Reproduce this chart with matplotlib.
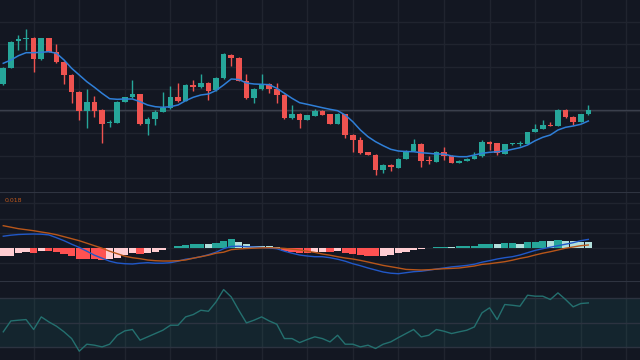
import numpy as np
import matplotlib
matplotlib.use("Agg")
import matplotlib.pyplot as plt

# ---------------- data ----------------
opens = [51.6, 53.2, 55.85, 56.05, 56.17, 54.1, 56.17, 54.8, 53.8, 52.5,
         50.8, 48.85, 49.75, 48.95, 47.65, 47.7, 49.83, 50.3, 50.55, 47.6,
         48.1, 48.83, 49.17, 50.27, 49.9, 51.5, 51.3, 51.67, 50.95, 52.17,
         54.53, 54.17, 51.9, 50.17, 51.07, 51.57, 51.07, 50.5, 48.17, 48.6,
         48.0, 48.4, 48.9, 48.55, 47.6, 48.57, 46.5, 46.0, 44.77, 44.53,
         43.0, 43.5, 43.23, 44.1, 44.93, 45.6, 43.97, 43.83, 44.8, 44.4,
         43.73, 43.87, 44.1, 44.4, 45.83, 45.67, 44.6, 45.55, 45.6, 45.6,
         46.8, 47.07, 47.53, 47.43, 49.0, 48.33, 47.8, 48.57]
highs = [53.3, 55.85, 56.5, 57.1, 56.3, 56.2, 56.2, 55.6, 53.9, 52.6,
         50.85, 51.05, 50.4, 49.05, 48.0, 49.9, 50.3, 52.0, 50.6, 48.25,
         49.0, 50.83, 51.4, 51.7, 51.55, 52.0, 52.6, 51.8, 52.3, 54.7,
         54.6, 54.25, 52.6, 51.2, 52.6, 51.7, 51.65, 50.55, 49.5, 48.7,
         48.5, 49.1, 49.0, 48.6, 48.7, 48.6, 46.55, 46.3, 44.8, 44.55,
         43.55, 43.55, 44.15, 45.0, 46.05, 45.65, 44.4, 44.85, 45.3, 44.45,
         44.0, 44.15, 44.8, 46.0, 45.9, 45.7, 45.6, 45.7, 45.85, 46.8,
         47.6, 48.0, 47.83, 49.05, 49.05, 48.35, 48.6, 49.5]
lows = [51.5, 53.15, 55.0, 55.0, 52.83, 54.0, 54.8, 53.7, 51.6, 49.7,
        48.0, 47.2, 48.3, 45.7, 47.3, 47.65, 49.8, 50.2, 47.5, 46.5,
        47.5, 48.8, 49.1, 49.8, 49.85, 50.9, 51.2, 50.0, 50.9, 52.1,
        53.4, 51.9, 50.1, 49.7, 51.0, 50.7, 49.7, 48.1, 48.1, 47.2,
        47.95, 48.35, 48.45, 47.55, 47.55, 46.2, 44.8, 44.6, 44.5, 42.5,
        42.7, 42.85, 43.2, 44.05, 44.9, 43.3, 43.6, 43.8, 44.0, 43.7,
        43.65, 43.85, 44.05, 44.3, 45.0, 44.5, 44.55, 45.45, 45.35, 45.55,
        46.75, 47.05, 47.35, 47.4, 48.2, 47.5, 47.75, 48.5]
closes = [53.2, 55.8, 56.05, 56.15, 54.1, 56.17, 54.83, 53.8, 52.45, 50.8,
          48.85, 49.75, 48.93, 47.6, 47.75, 49.83, 50.27, 50.55, 47.6, 48.1,
          48.83, 49.2, 50.27, 49.9, 51.5, 51.27, 51.67, 50.93, 52.17, 54.6,
          54.17, 51.93, 50.17, 51.07, 51.57, 51.07, 50.5, 48.17, 48.6, 48.0,
          48.45, 48.9, 48.5, 47.6, 48.57, 46.5, 46.0, 44.67, 44.53, 43.0,
          43.5, 43.27, 44.1, 44.93, 45.6, 43.9, 43.9, 44.8, 44.43, 43.73,
          43.93, 44.1, 44.4, 45.83, 45.6, 44.67, 45.57, 45.6, 45.7, 46.77,
          47.13, 47.5, 47.4, 49.0, 48.27, 47.83, 48.57, 49.0]
ma = [53.67, 54.0, 54.43, 54.73, 54.73, 54.77, 54.83, 54.67, 54.0, 53.17,
      52.5, 51.83, 51.27, 50.67, 50.13, 50.07, 50.1, 50.1, 49.83, 49.5,
      49.33, 49.27, 49.33, 49.5, 49.93, 50.27, 50.5, 50.6, 50.95, 51.5,
      52.1, 52.05, 51.7, 51.6, 51.57, 51.53, 51.17, 50.67, 50.17, 49.73,
      49.57, 49.4, 49.23, 49.07, 48.93, 48.5, 47.83, 47.0, 46.33, 45.83,
      45.43, 45.07, 44.9, 44.85, 44.83, 44.73, 44.67, 44.6, 44.6, 44.4,
      44.33, 44.33, 44.5, 44.67, 44.77, 44.83, 44.9, 45.07, 45.23, 45.5,
      45.93, 46.27, 46.5, 47.0, 47.27, 47.4, 47.57, 47.9]

macd_line = [11.5, 12.5, 13.2, 13.5, 13.7, 13.5, 12.8, 10.0, 7.0, 3.5,
             0.3, -3.5, -7.5, -10.5, -13.5, -15.3, -16.0, -16.3, -15.5, -15.0,
             -15.5, -15.5, -15.0, -13.5, -11.5, -10.5, -9.0, -7.0, -4.5, -1.0,
             1.3, 1.5, 1.0, 0.7, 0.3, -0.3, -1.0, -3.5, -5.5, -7.3,
             -8.3, -9.0, -9.0, -10.0, -11.5, -13.5, -16.0, -18.0, -20.3, -22.3,
             -24.3, -25.5, -26.0, -25.0, -24.0, -23.5, -22.5, -21.3, -20.3, -19.2,
             -18.5, -17.7, -16.5, -14.5, -13.0, -11.3, -10.0, -9.0, -7.3, -5.0,
             -2.7, -1.0, 0.5, 2.0, 3.5, 5.0, 7.0, 8.3]
signal_line = [22.0, 20.5, 19.0, 18.0, 17.0, 15.7, 14.5, 13.0, 11.0, 9.0,
               7.0, 4.5, 2.0, -0.5, -3.5, -6.0, -8.5, -10.0, -11.0, -12.3,
               -13.0, -13.3, -13.3, -13.0, -12.3, -10.5, -9.0, -7.5, -5.5, -4.5,
               -2.0, -1.3, -0.8, -0.5, -0.2, 0.0, -0.3, -0.7, -1.5, -2.3,
               -3.5, -4.7, -6.3, -7.5, -9.0, -10.3, -11.3, -12.7, -14.3, -16.0,
               -17.7, -19.0, -20.3, -21.7, -22.0, -22.3, -22.0, -21.5, -21.0, -20.7,
               -20.3, -19.3, -18.3, -16.7, -16.0, -15.0, -14.0, -12.5, -10.7, -9.3,
               -7.3, -5.5, -4.0, -2.3, -0.5, 0.7, 2.0, 2.7]
histogram = [-8.3, -8.0, -5.7, -4.0, -5.0, -3.0, -3.3, -4.0, -6.3, -8.0,
             -11.0, -11.3, -11.7, -12.3, -11.3, -10.0, -7.3, -5.7, -6.3, -5.7,
             -4.0, -2.3, -0.7, 1.7, 2.7, 3.3, 3.7, 3.5, 4.3, 7.0,
             8.3, 6.0, 3.3, 2.0, 1.7, 1.3, 0.3, -3.0, -4.0, -5.3,
             -5.7, -4.3, -4.0, -4.7, -3.3, -5.7, -6.3, -7.3, -8.0, -8.5,
             -8.3, -7.3, -5.7, -4.0, -2.3, -1.3, -0.3, 1.0, 1.2, 1.0,
             1.3, 1.7, 2.0, 3.7, 3.8, 3.6, 4.3, 4.4, 4.2, 5.3,
             6.0, 6.7, 6.6, 7.7, 7.0, 6.3, 6.1, 6.0]
macd_scale = 0.001  # values above are in thousandths
macd_label = "0.018"

rsi = [42.4, 51.3, 51.9, 52.4, 44.3, 54.6, 50.5, 47.0, 42.4, 36.9,
       26.6, 32.3, 31.5, 30.1, 32.3, 39.6, 43.2, 44.3, 35.6, 38.3,
       41.0, 43.7, 47.8, 47.8, 54.6, 56.5, 60.0, 59.2, 66.8, 76.9,
       70.9, 60.0, 49.7, 51.9, 54.6, 51.3, 48.6, 36.9, 36.9, 33.6,
       36.1, 38.3, 36.9, 34.2, 39.6, 32.3, 32.3, 30.1, 31.5, 28.8,
       32.3, 34.2, 37.7, 41.0, 44.3, 38.3, 39.6, 44.3, 42.9, 41.0,
       42.4, 43.7, 46.4, 57.9, 62.0, 52.4, 64.7, 64.1, 63.3, 72.3,
       71.5, 71.5, 68.8, 74.2, 68.8, 62.8, 65.5, 66.0]
rsi_levels = [30, 50, 70]

# ---------------- style ----------------
BG = "#131722"
GRID = "#20242f"
SEP = "#2f3441"
UP = "#26a69a"
DOWN = "#ef5350"

n = len(closes)
idx = np.arange(n)
xlim = (-0.43, 83.8)
vgrid = np.arange(4, 84, 6)

fig = plt.figure(figsize=(6.4, 3.6), dpi=100, facecolor=BG)
ax_p = fig.add_axes([0, 192/360*0 + 1 - 192/360, 1, 192/360])
ax_m = fig.add_axes([0, 1 - 281/360, 1, 89/360])
ax_r = fig.add_axes([0, 0, 1, 79/360])

for ax in (ax_p, ax_m, ax_r):
    ax.set_facecolor(BG)
    ax.set_xlim(*xlim)
    for s in ax.spines.values():
        s.set_visible(False)
    ax.set_xticks([])
    ax.set_yticks([])
    for v in vgrid:
        ax.axvline(v, color=GRID, lw=1.0, zorder=0)

# ---- price panel ----
o = np.array(opens); c = np.array(closes); h = np.array(highs); l = np.array(lows)
ax_p.set_ylim(40.8, 60.0)
for gy in 57.8 - 2.23 * np.arange(8):
    ax_p.axhline(gy, color=GRID, lw=1.0, zorder=0)
ax_p.axhline(closes[-1], color="#3a3f4c", lw=1.0, zorder=0.5)
up = c >= o
cols = np.where(up, UP, DOWN)
ax_p.vlines(idx, l, h, colors=cols, lw=1.0, zorder=2)
body_b = np.minimum(o, c)
body_h = np.maximum(np.abs(c - o), 0.1)
ax_p.bar(idx, body_h, bottom=body_b, width=0.74, color=cols, edgecolor="none", zorder=3)
ax_p.plot(idx, ma, color="#2f7fd8", lw=1.1, zorder=4)

# ---- MACD panel ----
hist = np.array(histogram) * macd_scale
prev = np.concatenate([[hist[0] - 1], hist[:-1]])
hcols = []
for v, p in zip(hist, prev):
    if v >= 0:
        hcols.append("#26a69a" if v > p else "#b2dfdb")
    else:
        hcols.append("#ffcdd2" if v > p else "#ff5252")
ax_m.set_ylim(-0.0333, 0.0557)
for gy in [0.0445, 0.029, 0.0145, -0.0155]:
    ax_m.axhline(gy, color=GRID, lw=1.0, zorder=0)
ax_m.axhline(0, color=GRID, lw=1.0, zorder=0)
ax_m.bar(idx, hist, width=0.95, color=hcols, edgecolor="none", zorder=2)
ax_m.plot(idx, np.array(macd_line) * macd_scale, color="#2158c8", lw=1.0, zorder=3)
ax_m.plot(idx, np.array(signal_line) * macd_scale, color="#b8561a", lw=1.0, zorder=3)
ax_m.axhline(0.0557, color=SEP, lw=1.5, zorder=5)
ax_m.text(0.007, 0.91, macd_label, transform=ax_m.transAxes, color="#c0581c",
          fontsize=4.5, va="center", ha="left", zorder=6)

# ---- RSI panel ----
ax_r.set_ylim(19.4, 83.9)
ax_r.axhspan(rsi_levels[0], rsi_levels[2], color=UP, alpha=0.1, lw=0, zorder=0.5)
for lv in rsi_levels:
    ax_r.axhline(lv, color="#2c3340", lw=1.0, zorder=1)
ax_r.plot(idx, rsi, color="#24706f", lw=1.0, zorder=3)
ax_r.axhline(83.9, color=SEP, lw=1.5, zorder=5)

fig.savefig("out.png", dpi=100, facecolor=BG)
